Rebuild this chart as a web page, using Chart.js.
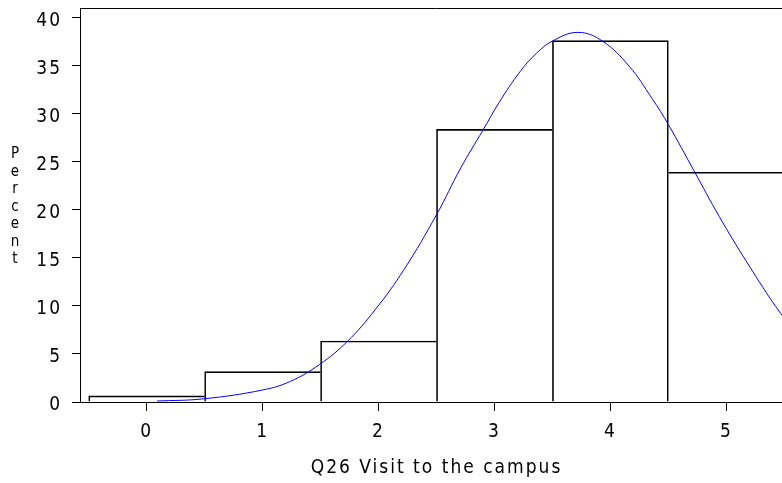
<!DOCTYPE html>
<html><head><meta charset="utf-8">
<script src="https://cdn.jsdelivr.net/npm/chart.js@4.4.0/dist/chart.umd.min.js"></script>
<style>
html,body{margin:0;padding:0;background:#fff;overflow:hidden;}
#wrap{position:relative;width:800px;height:483px;}
</style></head><body>
<div id="wrap"><canvas id="c"></canvas></div>
<script>
// ---- data ----
const binCenters = [0, 1, 2, 3, 4, 5];
const percents = [0.63, 3.16, 6.35, 28.4, 37.64, 23.93];
const curveX = [0.09, 0.49, 1.0, 1.24, 1.49, 1.73, 1.97, 2.22, 2.5, 2.71, 2.9, 3.04, 3.22, 3.36, 3.5, 3.72, 3.93, 4.16, 4.36, 4.5, 4.72, 4.94, 5.17, 5.47, 5.575];
const curveY = [0.1, 0.33, 1.25, 2.15, 3.9, 6.3, 9.6, 13.8, 19.5, 24.4, 28.3, 31.2, 34.4, 36.3, 37.6, 38.5, 37.6, 35.0, 31.6, 28.9, 24.1, 19.3, 14.7, 9.2, 7.9];
const xTicks = [0, 1, 2, 3, 4, 5];
const yTicks = [0, 5, 10, 15, 20, 25, 30, 35, 40];
const xTitle = 'Q26 Visit to the campus';
const yTitle = 'Percent';

const FONT = "'Liberation Sans Narrow','DejaVu Sans Condensed','Liberation Sans',sans-serif";

const barBorders = percents.map((v, i) => {
  const prev = i > 0 ? percents[i - 1] : 0;
  const next = i < percents.length - 1 ? percents[i + 1] : 0;
  return { top: 1, bottom: 0, left: v >= prev ? 1 : 0, right: v > next ? 1 : 0 };
});

const spacingPlugin = {
  id: 'spacing',
  beforeUpdate(chart) { chart.ctx.letterSpacing = '2px'; },
  beforeDraw(chart) { chart.ctx.letterSpacing = '2px'; }
};

const framePlugin = {
  id: 'frame',
  afterDraw(chart) {
    const ctx = chart.ctx, a = chart.chartArea;
    ctx.save();
    ctx.strokeStyle = '#000';
    ctx.lineWidth = 1;
    ctx.beginPath();
    ctx.moveTo(a.left, Math.round(a.top) + 0.5);
    ctx.lineTo(a.right, Math.round(a.top) + 0.5);
    ctx.stroke();
    // vertical stacked y title
    ctx.fillStyle = '#000';
    ctx.font = "15px " + FONT;
    ctx.letterSpacing = '0px';
    ctx.textAlign = 'center';
    ctx.textBaseline = 'alphabetic';
    const letters = yTitle.split('');
    letters.forEach((ch, i) => {
      ctx.fillText(ch, 15, 158 + i * 17.5);
    });
    ctx.restore();
  }
};

new Chart(document.getElementById('c'), {
  type: 'bar',
  data: {
    datasets: [
      {
        type: 'line',
        data: curveX.map((x, i) => ({ x: x, y: curveY[i] })),
        borderColor: '#0000ff',
        borderWidth: 1,
        pointRadius: 0,
        fill: false,
        tension: 0.4,
        order: 0
      },
      {
        type: 'bar',
        data: binCenters.map((x, i) => ({ x: x, y: percents[i] })),
        backgroundColor: 'rgba(0,0,0,0)',
        borderColor: '#000',
        borderWidth: barBorders,
        borderSkipped: false,
        barPercentage: 1,
        categoryPercentage: 1,
        order: 1
      }
    ]
  },
  options: {
    responsive: true,
    maintainAspectRatio: false,
    animation: false,
    events: [],
    layout: { padding: { top: 8, left: 0, right: 7, bottom: 0 } },
    plugins: { legend: { display: false }, tooltip: { enabled: false }, title: { display: false } },
    scales: {
      x: {
        type: 'linear',
        offset: false,
        min: -0.575,
        max: 5.575,
        afterBuildTicks: s => { s.ticks = xTicks.map(v => ({ value: v })); },
        afterFit: s => { s.height = 81; s.paddingLeft = 0; s.paddingRight = 0; },
        grid: { drawOnChartArea: false, drawTicks: true, tickLength: 9, color: '#000', lineWidth: 1, offset: false },
        border: { display: true, color: '#000', width: 1 },
        ticks: { color: '#000', padding: 10, font: { family: FONT, size: 19 }, maxRotation: 0, autoSkip: false },
        title: { display: true, text: xTitle, color: '#000', font: { family: FONT, size: 19 }, padding: { top: 0, bottom: 4 } }
      },
      y: {
        min: 0,
        max: 41.04,
        afterBuildTicks: s => { s.ticks = yTicks.map(v => ({ value: v })); },
        afterFit: s => { s.width = 80; s.paddingTop = 0; s.paddingBottom = 0; },
        grid: { drawOnChartArea: false, drawTicks: true, tickLength: 8, color: '#000', lineWidth: 1 },
        border: { display: true, color: '#000', width: 1 },
        ticks: { color: '#000', padding: 10, labelOffset: 3, font: { family: FONT, size: 19 } },
        title: { display: false }
      }
    }
  },
  plugins: [spacingPlugin, framePlugin]
});
</script>
</body></html>
